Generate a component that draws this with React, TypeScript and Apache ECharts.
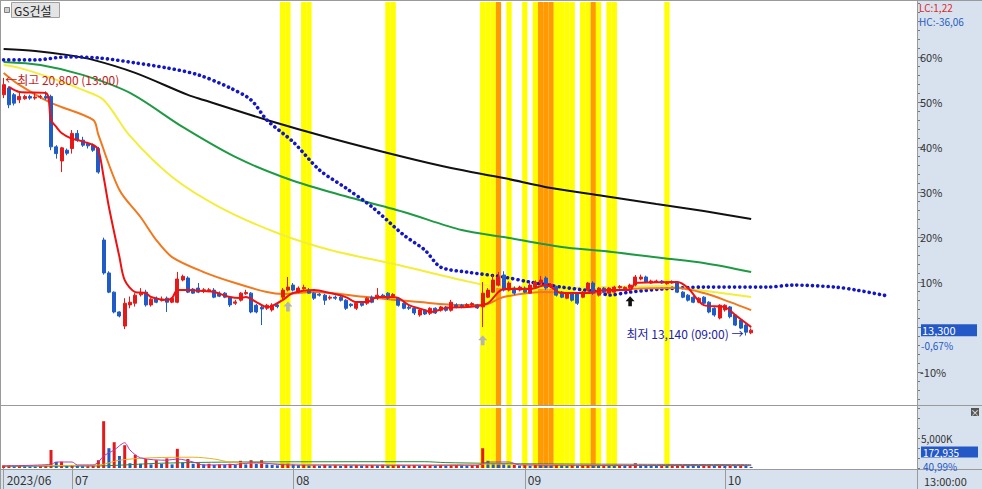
import React, { useEffect, useRef } from 'react';
import * as echarts from 'echarts';

const FONT = '"Noto Sans CJK KR", "Noto Sans", sans-serif';
const RED = '#e41a1a';
const BLUE = '#1f5cc8';
const YELLOW = '#ffff00';
const ORANGE = '#ff9a00';
const PANEL = '#d8e2ef';
const GRAY = '#9a9a9a';

const stockName = 'GS건설';
const monthLabels = ['2023/06', '07', '08', '09', '10'];
const monthStartSlots = [0, 13, 55, 99, 137];
const totalSlots = 174;
const basePrice = 13390;

// [open, close, low, high] per 240-minute bar
const ohlc: number[][] = [
  [20300, 20600, 20200, 20800], [20500, 20000, 19900, 20550], [20300, 20050, 19980, 20350], [20150, 20250, 20050, 20400],
  [20180, 20250, 20150, 20300], [20250, 20200, 20150, 20300], [20200, 20230, 20150, 20350], [20230, 20250, 20180, 20300],
  [20250, 20200, 20150, 20400], [20250, 18750, 18650, 20300], [18750, 18550, 18400, 18800], [18330, 18720, 18000, 18750],
  [18650, 18560, 18500, 18700], [18700, 19150, 18550, 19250], [19150, 18950, 18900, 19250], [18950, 18800, 18750, 19050],
  [18850, 18780, 18700, 18900], [18800, 18650, 18600, 18850], [18700, 18000, 17950, 18750], [15980, 15000, 14950, 16050],
  [15000, 14430, 14400, 15050], [14430, 13840, 13800, 14450], [13840, 13720, 13680, 13860], [13420, 14100, 13330, 14250],
  [14050, 14130, 13950, 14300], [14100, 14340, 14000, 14400], [14350, 14400, 14300, 14550], [14430, 14050, 14000, 14500],
  [14050, 14220, 14000, 14250], [14250, 14130, 14100, 14300], [14180, 14220, 14150, 14300], [14250, 14130, 13840, 14300],
  [14130, 14250, 14100, 14280], [14130, 14820, 14100, 15030], [14790, 14900, 14750, 14950], [14850, 14430, 14400, 14900],
  [14520, 14400, 14380, 14550], [14550, 14430, 14400, 14700], [14480, 14500, 14400, 14550], [14460, 14500, 14430, 14550],
  [14490, 14280, 14250, 14550], [14400, 14310, 14280, 14450], [14400, 14280, 14250, 14430], [14280, 14050, 13990, 14300],
  [14100, 14140, 14050, 14200], [14190, 14400, 14150, 14430], [14380, 14420, 14350, 14500], [14400, 13840, 13800, 14430],
  [14040, 13840, 13800, 14080], [13980, 13930, 13450, 14050], [13950, 14040, 13900, 14080], [13900, 14050, 13850, 14100],
  [14050, 14000, 13950, 14100], [14280, 14490, 14200, 14550], [14490, 14580, 14450, 14880], [14640, 14490, 14450, 14700],
  [14430, 14550, 14400, 14600], [14530, 14570, 14500, 14650], [14490, 14400, 14380, 14550], [14400, 14250, 14200, 14430],
  [14370, 14340, 14300, 14400], [14340, 14190, 14050, 14380], [14250, 14280, 14200, 14330], [14280, 14250, 14200, 14330],
  [14280, 14190, 14150, 14320], [14190, 13950, 13900, 14220], [14070, 14030, 13980, 14100], [13950, 14100, 13900, 14130],
  [14100, 14040, 14000, 14150], [14100, 14250, 14050, 14280], [14280, 14130, 14100, 14330], [14250, 14340, 14200, 14550],
  [14340, 14280, 14250, 14380], [14400, 14250, 14200, 14430], [14310, 14360, 14280, 14400], [14250, 14040, 14000, 14280],
  [14100, 13950, 13920, 14130], [13980, 13950, 13900, 14050], [13950, 13810, 13750, 13980], [13750, 13900, 13700, 13950],
  [13900, 13780, 13750, 13920], [13800, 13950, 13750, 13980], [13950, 13810, 13780, 13980], [13890, 13990, 13850, 14020],
  [13990, 13890, 13850, 14020], [13890, 14130, 13850, 14200], [14050, 13980, 13950, 14100], [14040, 13990, 13950, 14080],
  [14020, 14060, 14000, 14100], [14050, 14090, 14020, 14130], [14050, 13960, 13930, 14080], [13990, 14400, 13390, 14730],
  [14280, 14490, 14250, 14550], [14430, 14790, 14400, 14940], [14640, 14880, 14600, 15030], [14940, 14490, 14450, 15050],
  [14490, 14700, 14450, 14750], [14550, 14400, 14350, 14600], [14490, 14580, 14450, 14620], [14550, 14430, 14400, 14600],
  [14400, 14640, 14380, 14700], [14580, 14730, 14550, 14780], [14700, 14790, 14650, 14910], [14850, 14550, 14500, 14900],
  [14600, 14660, 14550, 14700], [14580, 14340, 14300, 14620], [14430, 14280, 14250, 14460], [14250, 14400, 14220, 14430],
  [14400, 14190, 14150, 14430], [14400, 14100, 14050, 14430], [14280, 14430, 14250, 14460], [14490, 14700, 14450, 14730],
  [14700, 14400, 14350, 14750], [14340, 14550, 14300, 14580], [14550, 14430, 14400, 14580], [14400, 14550, 14380, 14580],
  [14430, 14580, 14400, 14620], [14560, 14600, 14530, 14640], [14530, 14570, 14500, 14600], [14560, 14640, 14530, 14680],
  [14640, 14880, 14600, 14940], [14820, 14880, 14780, 14950], [14880, 14730, 14700, 14920], [14700, 14760, 14680, 14800],
  [14720, 14760, 14700, 14800], [14760, 14700, 14680, 14790], [14680, 14730, 14650, 14760], [14700, 14740, 14680, 14780],
  [14730, 14430, 14400, 14760], [14430, 14280, 14250, 14460], [14340, 14190, 14150, 14370], [14280, 14130, 14100, 14310],
  [14130, 14250, 14100, 14280], [14280, 14100, 14050, 14310], [14130, 13840, 13800, 14160], [13950, 13750, 13700, 13980],
  [13660, 14040, 13620, 14070], [13900, 14040, 13850, 14070], [13990, 13700, 13650, 14020], [13750, 13450, 13420, 13780],
  [13600, 13360, 13330, 13630], [13450, 13240, 13140, 13480], [13220, 13300, 13180, 13350],
];

const volume: number[] = [
  450000, 500000, 300000, 350000, 300000, 280000, 250000, 300000, 320000, 3000000,
  1000000, 1050000, 400000, 500000, 350000, 300000, 300000, 350000, 1300000, 7800000,
  3300000, 4300000, 2000000, 3800000, 800000, 2200000, 700000, 1500000, 600000, 1300000,
  700000, 1600000, 600000, 3200000, 900000, 1500000, 700000, 800000, 600000, 700000,
  500000, 600000, 500000, 700000, 500000, 1200000, 600000, 1300000, 700000, 1300000,
  600000, 500000, 450000, 700000, 750000, 600000, 480000, 520000, 400000, 450000,
  380000, 500000, 420000, 460000, 350000, 520000, 400000, 480000, 380000, 450000,
  500000, 420000, 560000, 400000, 450000, 520000, 380000, 420000, 500000, 360000,
  440000, 480000, 400000, 520000, 380000, 450000, 500000, 420000, 380000, 460000,
  520000, 3300000, 1200000, 800000, 700000, 650000, 450000, 520000, 400000, 480000,
  380000, 500000, 460000, 420000, 380000, 500000, 440000, 360000, 480000, 400000,
  450000, 520000, 420000, 380000, 460000, 400000, 350000, 420000, 380000, 500000,
  800000, 560000, 420000, 380000, 350000, 400000, 330000, 380000, 450000, 500000,
  420000, 380000, 350000, 420000, 520000, 480000, 550000, 430000, 500000, 460000,
  520000, 420000, 172935,
];

// moving-average lines: [slot, price]
const ma5Pts = [
  [1, 20532], [3, 20384], [8, 20354], [9, 19550], [10, 19342], [11, 19164], [13, 18985], [14, 18955], [17, 18806],
  [18, 18658], [19, 17854], [20, 16961], [22, 15473], [23, 14789], [25, 14432], [27, 14402], [28, 14283], [31, 14194],
  [32, 14253], [33, 14491], [35, 14491], [38, 14461], [40, 14432], [43, 14283], [45, 14253], [46, 14283], [48, 14134],
  [50, 13985], [51, 14015], [53, 14194], [55, 14402], [59, 14491], [62, 14402], [65, 14283], [67, 14134], [69, 14134],
  [71, 14283], [73, 14283], [75, 14253], [77, 14045], [80, 13896], [81, 13836], [84, 13955], [88, 13985], [90, 14015],
  [92, 14104], [94, 14432], [95, 14521], [100, 14521], [103, 14640], [106, 14402], [111, 14402], [114, 14491],
  [119, 14491], [120, 14700], [128, 14729], [130, 14551], [133, 14045], [137, 13985], [139, 13747], [142, 13390],
];
const ma20Pts = [
  [0, 20949], [3, 20592], [9, 20056], [17, 19550], [18, 19104], [22, 17467], [26, 16664], [29, 15979], [32, 15473],
  [38, 15027], [44, 14700], [50, 14432], [53, 14372], [59, 14432], [69, 14283], [79, 14134], [87, 14045], [91, 14045],
  [95, 14283], [103, 14432], [108, 14402], [114, 14432], [119, 14521], [128, 14551], [133, 14402], [138, 14134], [142, 13896],
];
const ma60Pts = [
  [0, 21187], [3, 21098], [9, 20800], [15, 20443], [19, 20145], [24, 19074], [32, 17854], [41, 16961], [52, 16187],
  [62, 15682], [75, 15235], [87, 14789], [94, 14580], [103, 14551], [114, 14580], [126, 14610], [132, 14491], [142, 14283],
];
const ma120Pts = [
  [0, 21276], [7, 21187], [15, 20890], [24, 20354], [34, 19342], [44, 18449], [53, 17854], [62, 17408], [76, 16812],
  [87, 16277], [95, 16068], [106, 15771], [114, 15652], [125, 15443], [133, 15295], [142, 15027],
];
const ma240Pts = [
  [0, 21663], [6, 21604], [12, 21485], [17, 21336], [25, 20949], [35, 20294], [38, 20145], [50, 19550], [62, 19015],
  [76, 18449], [85, 18122], [95, 17824], [104, 17527], [114, 17289], [124, 17050], [133, 16842], [142, 16604],
];
const shiftedMaPts = [
  [0, 21336], [6, 21336], [12, 21425], [18, 21396], [25, 21247], [31, 21098], [37, 20890], [43, 20503], [47, 20145],
  [50, 19550], [55, 18896], [60, 18062], [65, 17527], [70, 16961], [76, 16128], [80, 15682], [83, 15176], [88, 15027],
  [95, 14878], [100, 14729], [106, 14580], [113, 14432], [115, 14342], [119, 14432], [125, 14521], [133, 14580],
  [145, 14580], [150, 14640], [158, 14580], [162, 14491], [168, 14313],
];
const volMa5Pts = [
  [0, 350000], [9, 600000], [10, 1000000], [13, 1000000], [14, 500000], [17, 500000], [18, 1000000], [19, 2000000],
  [21, 3000000], [23, 4200000], [24, 3000000], [26, 1700000], [31, 1300000], [33, 1500000], [36, 1000000], [38, 500000],
  [44, 600000], [48, 900000], [52, 600000], [56, 480000], [90, 450000], [92, 1000000], [96, 1000000], [98, 500000], [142, 400000],
];
const volMa20Pts = [
  [0, 380000], [18, 500000], [22, 1300000], [28, 1700000], [36, 1800000], [40, 1500000], [43, 1000000], [50, 750000],
  [60, 600000], [80, 500000], [92, 650000], [110, 500000], [142, 420000],
];
const volMa60Pts = [
  [0, 300000], [18, 350000], [30, 800000], [45, 1000000], [80, 1050000], [84, 900000], [100, 700000], [142, 550000],
];

const bandYellowSlots = [53, 54, 57, 58, 73, 74, 91, 92, 93, 96, 99, 101, 105, 106, 107, 108, 110, 111, 113, 115, 116, 126];
const bandOrangeSlots = [94, 102, 103, 104, 112];

const signalArrows = [
  { slot: 54, price: 14000, color: '#b4b4b4' },
  { slot: 91, price: 13000, color: '#b4b4b4' },
  { slot: 119, price: 14160, color: '#111111' },
];

const highTime = '13:00';
const lowTime = '09:00';
const lcText = 'LC:1,22';
const hcText = 'HC:-36,06';
const volPctText = '40,99%';
const timeText = '13:00:00';

const majorPcts = [-10, 10, 20, 30, 40, 50, 60];
const pctMax = 72.2;
const pctMin = -17.3;

function fmtInt(v: number) {
  return Math.round(v).toLocaleString('en-US');
}

function buildOption() {
  const cats = Array.from({ length: totalSlots }, (_, i) => 'b' + i);
  const monthMap: Record<number, string> = {};
  monthStartSlots.forEach((s, j) => (monthMap[s] = monthLabels[j]));
  const isMonth = (i: number) => monthMap[i] !== undefined;

  const priceMax = basePrice * (1 + pctMax / 100);
  const priceMin = basePrice * (1 + pctMin / 100);
  const majorVals = majorPcts.map((p) => basePrice * (1 + p / 100));
  const majorTickVals = [-10, 0, 10, 20, 30, 40, 50, 60].map((p) => basePrice * (1 + p / 100));
  const minorVals: number[] = [];
  for (let p = -16; p <= 72; p += 2) minorVals.push(basePrice * (1 + p / 100));

  const volMax = 10000000;
  const volTicks = [0, 1, 2, 3, 4, 5, 6].map((k) => (k * volMax) / 6);

  const bandData = cats.map((_, i) =>
    bandOrangeSlots.includes(i)
      ? { value: 1, itemStyle: { color: ORANGE } }
      : bandYellowSlots.includes(i)
      ? { value: 1, itemStyle: { color: YELLOW } }
      : '-'
  );

  const volData = volume.map((v, i) => ({
    value: v,
    itemStyle: { color: i > 0 && v < volume[i - 1] ? BLUE : RED },
  }));

  let hiIdx = 0;
  let loIdx = 0;
  ohlc.forEach((r, i) => {
    if (r[3] > ohlc[hiIdx][3]) hiIdx = i;
    if (r[2] < ohlc[loIdx][2]) loIdx = i;
  });
  const hiVal = ohlc[hiIdx][3];
  const loVal = ohlc[loIdx][2];
  const lastClose = ohlc[ohlc.length - 1][1];
  const lastPct = ((lastClose / basePrice - 1) * 100).toFixed(2).replace('.', ',') + '%';
  const lastVol = volume[volume.length - 1];

  const arrowPath = 'path://M5,0L10,5L7,5L7,10L3,10L3,5L0,5Z';

  const line = (data: number[][], color: string, width: number, z: number, extra: any = {}) => ({
    type: 'line',
    xAxisIndex: 0,
    yAxisIndex: 0,
    data,
    showSymbol: false,
    symbol: 'none',
    smooth: 0.3,
    silent: true,
    z,
    lineStyle: { color, width, ...extra },
  });
  const vline = (data: number[][], color: string) => ({
    type: 'line',
    xAxisIndex: 1,
    yAxisIndex: 3,
    data,
    showSymbol: false,
    symbol: 'none',
    smooth: 0.3,
    silent: true,
    z: 4,
    lineStyle: { color, width: 1 },
  });

  const txt = (x: number, y: number, text: string, fill: string, size = 12, align = 'left') => ({
    type: 'text',
    x,
    y,
    z: 50,
    silent: true,
    style: { text, fill, fontSize: size, fontFamily: FONT, align, verticalAlign: 'middle' },
  });
  const gline = (x1: number, y1: number, x2: number, y2: number) => ({
    type: 'line',
    z: 40,
    silent: true,
    shape: { x1, y1, x2, y2 },
    style: { stroke: GRAY, lineWidth: 1 },
  });

  return {
    animation: false,
    backgroundColor: '#ffffff',
    textStyle: { fontFamily: FONT },
    grid: [
      { left: 1, right: 65, top: 2, height: 403 },
      { left: 1, right: 65, top: 408, height: 60 },
    ],
    xAxis: [
      { type: 'category', gridIndex: 0, data: cats, show: false, boundaryGap: true },
      {
        type: 'category',
        gridIndex: 1,
        data: cats,
        boundaryGap: true,
        axisLine: { show: false },
        axisTick: {
          show: true,
          alignWithLabel: true,
          interval: (i: number) => isMonth(i),
          length: 21,
          lineStyle: { color: GRAY },
        },
        axisLabel: {
          interval: (i: number) => isMonth(i),
          formatter: (_v: string, i: number) => monthMap[i] || '',
          align: 'left',
          margin: 5,
          padding: [0, 0, 0, 3],
          color: '#333',
          fontSize: 12,
          fontFamily: FONT,
        },
      },
      { type: 'category', gridIndex: 0, data: cats, show: false, boundaryGap: true },
      { type: 'category', gridIndex: 1, data: cats, show: false, boundaryGap: true },
    ],
    yAxis: [
      {
        type: 'value',
        gridIndex: 0,
        position: 'right',
        min: priceMin,
        max: priceMax,
        splitLine: { show: false },
        axisLine: { show: true, lineStyle: { color: GRAY } },
        axisTick: { show: true, customValues: majorTickVals, length: 6, lineStyle: { color: '#777' } },
        axisLabel: {
          customValues: majorVals,
          formatter: (v: number) => Math.round((v / basePrice - 1) * 100) + '%',
          color: '#333',
          fontSize: 11,
          margin: 3,
          fontFamily: FONT,
        },
      },
      {
        type: 'value',
        gridIndex: 0,
        position: 'right',
        min: priceMin,
        max: priceMax,
        splitLine: { show: false },
        axisLine: { show: false },
        axisTick: { show: true, customValues: minorVals, length: 3, lineStyle: { color: '#777' } },
        axisLabel: { show: false },
      },
      { type: 'value', gridIndex: 0, min: 0, max: 1, show: false },
      {
        type: 'value',
        gridIndex: 1,
        position: 'right',
        min: 0,
        max: volMax,
        splitLine: { show: false },
        axisLine: { show: true, lineStyle: { color: GRAY } },
        axisTick: { show: true, customValues: volTicks, length: 3, lineStyle: { color: '#777' } },
        axisLabel: {
          customValues: [5000000],
          formatter: (v: number) => fmtInt(v / 1000) + 'K',
          color: '#333',
          fontSize: 10,
          margin: 4,
          fontFamily: FONT,
        },
      },
      { type: 'value', gridIndex: 1, min: 0, max: 1, show: false },
    ],
    series: [
      {
        type: 'bar',
        xAxisIndex: 2,
        yAxisIndex: 2,
        data: bandData,
        barWidth: '100%',
        silent: true,
        z: 1,
      },
      {
        type: 'bar',
        xAxisIndex: 3,
        yAxisIndex: 4,
        data: bandData,
        barWidth: '100%',
        silent: true,
        z: 1,
      },
      line(ma240Pts, '#111111', 2, 3),
      line(ma120Pts, '#1f9a44', 2, 3),
      line(ma60Pts, '#f2ee3a', 2, 3),
      line(shiftedMaPts, '#1216c4', 3.6, 3, { type: [0.1, 5.1], cap: 'round' }),
      line(ma20Pts, '#f2781e', 2, 3),
      {
        type: 'candlestick',
        xAxisIndex: 0,
        yAxisIndex: 0,
        data: ohlc,
        barWidth: 3.5,
        silent: true,
        z: 4,
        itemStyle: { color: RED, color0: BLUE, borderColor: RED, borderColor0: BLUE, borderWidth: 1 },
        markPoint: {
          silent: true,
          data: [
            {
              coord: [hiIdx, hiVal],
              symbol: 'circle',
              symbolSize: 1,
              itemStyle: { color: 'rgba(0,0,0,0)' },
              label: {
                show: true,
                position: 'right',
                distance: 1,
                offset: [0, 2],
                formatter: `←최고 ${fmtInt(hiVal)} (${highTime})`,
                color: '#c41c1c',
                fontSize: 12,
                fontFamily: FONT,
              },
            },
            {
              coord: [loIdx, loVal],
              symbol: 'circle',
              symbolSize: 1,
              itemStyle: { color: 'rgba(0,0,0,0)' },
              label: {
                show: true,
                position: 'left',
                distance: 2,
                offset: [0, -2],
                formatter: `최저 ${fmtInt(loVal)} (${lowTime}) →`,
                color: '#23239c',
                fontSize: 12,
                fontFamily: FONT,
              },
            },
            ...signalArrows.map((a) => ({
              coord: [a.slot, a.price],
              symbol: arrowPath,
              symbolSize: [9, 10],
              itemStyle: { color: a.color },
              label: { show: false },
            })),
          ],
        },
        markLine: {
          silent: true,
          symbol: ['none', 'none'],
          lineStyle: { color: 'rgba(0,0,0,0)', width: 1 },
          data: [
            {
              yAxis: lastClose,
              label: {
                show: true,
                position: 'end',
                distance: 4,
                formatter: fmtInt(lastClose),
                backgroundColor: '#2358c6',
                color: '#ffffff',
                width: 54,
                height: 12,
                lineHeight: 12,
                padding: [0, 1],
                fontSize: 11,
                fontFamily: FONT,
              },
            },
            {
              yAxis: lastClose,
              label: {
                show: true,
                position: 'end',
                distance: 4,
                offset: [0, 15],
                formatter: lastPct,
                color: '#2358c6',
                fontSize: 10,
                fontFamily: FONT,
              },
            },
          ],
        },
      },
      line(ma5Pts, '#ee1111', 2, 5),
      {
        type: 'bar',
        xAxisIndex: 1,
        yAxisIndex: 3,
        data: volData,
        barWidth: 3,
        silent: true,
        z: 3,
      },
      vline(volMa60Pts, '#2a8a3a'),
      vline(volMa20Pts, '#e6b020'),
      vline(volMa5Pts, '#b03cb0'),
    ],
    graphic: [
      { type: 'rect', z: -1, silent: true, shape: { x: 917, y: 0, width: 65, height: 489 }, style: { fill: PANEL } },
      { type: 'rect', z: -1, silent: true, shape: { x: 0, y: 469, width: 982, height: 20 }, style: { fill: PANEL } },
      gline(0, 0.5, 982, 0.5),
      gline(0.5, 0, 0.5, 489),
      gline(0, 405.5, 982, 405.5),
      gline(0, 469.5, 982, 469.5),
      gline(917.5, 0, 917.5, 489),
      {
        type: 'rect',
        z: 45,
        silent: true,
        shape: { x: 4.5, y: 7.5, width: 5, height: 5 },
        style: { fill: '#cfcfcf', stroke: '#808080', lineWidth: 1 },
      },
      {
        type: 'rect',
        z: 45,
        silent: true,
        shape: { x: 11.5, y: 2.5, width: 48, height: 15 },
        style: { fill: '#e4e4e4', stroke: '#a0a0a0', lineWidth: 1 },
      },
      txt(14, 10.5, stockName, '#222', 12),
      txt(919, 7, lcText, '#e02828', 10),
      txt(919, 21, hcText, '#2a5cc0', 10),
      {
        type: 'rect',
        z: 45,
        silent: true,
        shape: { x: 921, y: 446.5, width: 57, height: 11 },
        style: { fill: '#2358c6' },
      },
      txt(923, 452, fmtInt(lastVol), '#ffffff', 10),
      txt(923, 466, volPctText, '#2358c6', 10),
      {
        type: 'rect',
        z: 45,
        silent: true,
        shape: { x: 971, y: 408, width: 8, height: 8 },
        style: { fill: '#555' },
      },
      txt(975, 412, '×', '#fff', 9, 'center'),
      txt(924, 481, timeText, '#333', 11),
    ],
  };
}

export default function App() {
  const ref = useRef<HTMLDivElement>(null);
  useEffect(() => {
    const chart = echarts.init(ref.current!, null, { renderer: 'svg' });
    chart.setOption(buildOption() as any);
    return () => chart.dispose();
  }, []);
  return (
    <div
      ref={ref}
      style={{ position: 'fixed', left: 0, top: 0, width: 982, height: 489, background: '#ffffff' }}
    />
  );
}
